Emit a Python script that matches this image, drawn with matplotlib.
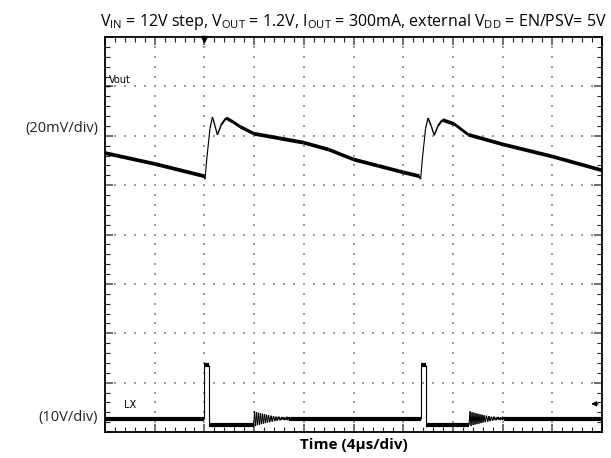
"""
Scope capture: Vout ripple and LX switch node, Vin = 12V step
"""

import numpy as np
import matplotlib
matplotlib.use('Agg')
import matplotlib.pyplot as plt
from matplotlib.collections import LineCollection

plt.rcParams['font.family'] = ['Open Sans', 'DejaVu Sans']
plt.rcParams['mathtext.fontset'] = 'custom'
plt.rcParams['mathtext.rm'] = 'Open Sans'

# Time axis (us), 4us per division, 10 divisions
T_DIV = 4.0
N_XDIV = 10
N_YDIV = 8

# Vout trace: time (us) and screen position (div)
vout_t = [0.0, 4.0, 8.0, 8.05, 8.2, 8.45, 8.65, 8.85, 9.05, 9.35, 9.75,
          10.3, 10.9, 12.0, 14.0, 16.0, 18.0, 20.0, 22.0, 24.0, 25.3,
          25.4, 25.55, 25.8, 26.0, 26.25, 26.5, 26.8, 27.15, 28.1, 29.25,
          32.1, 36.0, 40.0]
vout_y = [5.65, 5.43, 5.18, 5.12, 5.55, 6.15, 6.38, 6.2, 6.02, 6.22, 6.36,
          6.28, 6.18, 6.04, 5.95, 5.86, 5.72, 5.52, 5.39, 5.26, 5.18,
          5.12, 5.55, 6.15, 6.36, 6.2, 6.01, 6.2, 6.32, 6.24, 6.02,
          5.82, 5.58, 5.3]

# LX ringing after the low phase: offsets (us) and screen position (div)
ring_dt = [0.0, 0.08, 0.16, 0.24, 0.32, 0.4, 0.48, 0.56, 0.64, 0.72, 0.8,
           0.88, 0.96, 1.04, 1.12, 1.2, 1.3, 1.4, 1.5, 1.6, 1.7, 1.8, 1.9,
           2.0, 2.15, 2.3, 2.45, 2.6, 2.8, 3.0]
ring_y = [0.14, 0.42, 0.12, 0.40, 0.14, 0.39, 0.15, 0.38, 0.16, 0.37, 0.17,
          0.36, 0.18, 0.35, 0.19, 0.34, 0.20, 0.33, 0.21, 0.32, 0.22, 0.31,
          0.23, 0.31, 0.24, 0.30, 0.25, 0.29, 0.26, 0.27]

# LX switching events: pulse start, pulse end, end of low phase (us)
lx_events = [(8.0, 8.4, 11.96), (25.45, 25.85, 29.3)]
LX_BASE = 0.27
LX_HIGH = 1.36
LX_LOW = 0.14

TITLE = (r'V$_{\mathrm{IN}}$ = 12V step, V$_{\mathrm{OUT}}$ = 1.2V, '
         r'I$_{\mathrm{OUT}}$ = 300mA, external V$_{\mathrm{DD}}$ = EN/PSV= 5V')


def lx_trace():
    """Build the LX waveform from the switching events"""
    t, y = [0.0], [LX_BASE]
    for t_on, t_off, t_ring in lx_events:
        t += [t_on, t_on, t_off, t_off]
        y += [LX_BASE, LX_HIGH, LX_HIGH, LX_LOW]
        t += [t_ring + d for d in ring_dt]
        y += ring_y
    t.append(N_XDIV * T_DIV)
    y.append(LX_BASE)
    return t, y


def trace(ax, t, y, thick=2.8, thin=0.8):
    """
    Draw a scope trace: flat parts look thick (noise band), fast edges thin
    """
    t = np.asarray(t)
    y = np.asarray(y)
    pts = np.column_stack([t, y]).reshape(-1, 1, 2)
    segs = np.concatenate([pts[:-1], pts[1:]], axis=1)
    dx = np.diff(t) / T_DIV
    dy = np.abs(np.diff(y))
    slope = np.where(dx > 0, dy / np.maximum(dx, 1e-9), 1e6)
    widths = thin + (thick - thin) / (1 + slope ** 2)
    lc = LineCollection(segs, linewidths=widths, colors='black',
                        capstyle='butt', zorder=3)
    ax.add_collection(lc)


fig = plt.figure(figsize=(6.11, 4.58), dpi=100)
ax = fig.add_axes([105 / 611, 1 - 432 / 458, 497 / 611, 395 / 458])

xmax = N_XDIV * T_DIV
ax.set_xlim(0, xmax)
ax.set_ylim(0, N_YDIV)

# Graticule: dotted grey lines at every division, a dot per minor step
for k in range(1, N_XDIV):
    yy = np.arange(0, N_YDIV + 0.01, 0.2)
    ax.scatter(np.full(len(yy), k * T_DIV), yy, s=1.2, color='#9a9a9a',
               marker='s', linewidths=0, zorder=1)
for k in range(1, N_YDIV):
    xx = np.arange(0, xmax + 0.01, T_DIV / 5)
    ax.scatter(xx, np.full(len(xx), k), s=1.2, color='#9a9a9a',
               marker='s', linewidths=0, zorder=1)

ax.set_xticks(np.arange(0, xmax + 0.01, T_DIV))
ax.set_xticks(np.arange(0, xmax + 0.01, T_DIV / 5), minor=True)
ax.set_yticks(np.arange(0, N_YDIV + 0.01, 1))
ax.set_yticks(np.arange(0, N_YDIV + 0.01, 0.2), minor=True)
ax.tick_params(which='both', direction='in', top=True, right=True,
               labelbottom=False, labelleft=False)
ax.tick_params(which='major', length=6, width=1.2, color='#555555')
ax.tick_params(which='minor', length=3.5, width=0.8, color='#222222')
for s in ax.spines.values():
    s.set_linewidth(1.3)

trace(ax, vout_t, vout_y)
lx_t, lx_y = lx_trace()
trace(ax, lx_t, lx_y, thick=3.0)

# Channel markers and trigger marker
ax.plot([0, 0.3], [7.0, 7.0], color='black', lw=1.0, clip_on=False)
ax.text(0.35, 7.02, 'Vout', fontsize=7, va='bottom', ha='left',
        family=['DejaVu Sans'])
ax.text(1.5, 0.55, 'LX', fontsize=7, va='center', ha='left',
        family=['DejaVu Sans'])
ax.plot(2 * T_DIV, N_YDIV - 0.05, marker='v', color='black', ms=5,
        clip_on=False, zorder=4)
ax.annotate('', xy=(38.9, 0.57), xytext=(39.9, 0.57),
            arrowprops=dict(arrowstyle='-|>', color='black', lw=1.0,
                            mutation_scale=7))

ax.set_title(TITLE, fontsize=11.5, pad=8)
ax.set_xlabel('Time (4µs/div)', fontsize=11, fontweight='bold', labelpad=4)

fig.text(98 / 611, 1 - 129 / 458, '(20mV/div)', fontsize=10.5,
         ha='right', va='center', color='#222222')
fig.text(98 / 611, 1 - 418 / 458, '(10V/div)', fontsize=10.5,
         ha='right', va='center', color='#222222')

fig.savefig('out.png', dpi=100)
